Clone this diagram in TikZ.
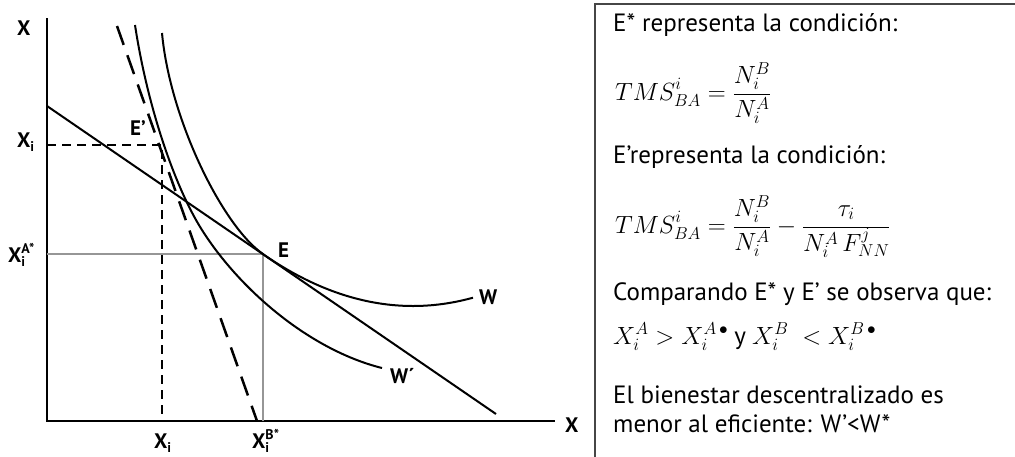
\documentclass[tikz,border=0pt]{standalone}
\usepackage{fontspec}
\setmainfont{PT Sans}
\definecolor{graycol}{RGB}{150,150,150}
\definecolor{boxcol}{RGB}{70,70,70}
\newcommand\lblsub[1]{\raisebox{-4pt}{\fontsize{14}{14}\selectfont #1}}
\newcommand\lblsubsup[2]{\rlap{\raisebox{-4pt}{\fontsize{14}{14}\selectfont #1}}\raisebox{9pt}{\fontsize{14}{14}\selectfont #2}}
\begin{document}
\begin{tikzpicture}[x=1pt,y=-1pt,
  axis/.style={line width=2.4pt},
  curve/.style={line width=2pt},
  longdash/.style={line width=2.5pt, dash pattern=on 20pt off 11pt},
  shortdash/.style={line width=2.2pt, dash pattern=on 9pt off 6pt},
  guide/.style={line width=2pt, draw=graycol},
  lbl/.style={font=\fontsize{21}{24}\selectfont\bfseries, inner sep=0pt, anchor=base west},
  txt/.style={font=\fontsize{25}{28}\selectfont, inner sep=0pt, anchor=base west},
  frm/.style={font=\fontsize{23}{26}\selectfont, inner sep=0pt, anchor=base west}]
\useasboundingbox (0,0) rectangle (1015,456);
% axes
\coordinate (O) at (47,421);
\coordinate (Ytop) at (47,18);
\coordinate (Xend) at (555,421);
\draw[axis] (Ytop) -- (O) -- (Xend);
% key points
\coordinate (Ep) at (162,145);
\coordinate (E) at (263,254);
\coordinate (EpY) at (47,145);
\coordinate (EpX) at (162,421);
\coordinate (EY) at (47,254);
\coordinate (EX) at (263,421);
% guides
\draw[guide] (EY) -- (E) -- (EX);
\draw[shortdash] (EpY) -- (Ep) -- (EpX);
% budget line
\coordinate (B1) at (47,106);
\coordinate (B2) at (496,414);
\draw[curve] (B1) -- (B2);
% steep dashed line
\coordinate (S1) at (117,26);
\coordinate (S2) at (257,421);
\draw[longdash] (S1) -- (S2);
% curve W'
\coordinate (Wp1) at (135,25);
\coordinate (Wp2) at (202,230);
\coordinate (Wp3) at (382,368);
\draw[curve] (Wp1) .. controls (148,110) and (176,189) .. (Wp2)
  .. controls (240,290) and (310,350) .. (Wp3);
% curve W
\coordinate (W1) at (162,33);
\draw[curve, line join=round] (W1) .. controls (170,120) and (223,226.5) .. (E)
  -- plot[domain=263:473, samples=50] (\x, {306-0.00231*(\x-413)*(\x-413)});
% labels
\node[lbl] (lX) at (17,35) {X};
\node[lbl] (lXi) at (17,147) {X\lblsub{i}};
\node[lbl] (lXA) at (8,262) {X\lblsubsup{i}{A*}};
\node[lbl] (lXib) at (154,448) {X\lblsub{i}};
\node[lbl] (lXB) at (252,448) {X\lblsubsup{i}{B*}};
\node[lbl] (lXr) at (565,432) {X};
\node[lbl] (lEp) at (130,135) {E’};
\node[lbl] (lE) at (278,257) {E};
\node[lbl] (lW) at (479,304) {W};
\node[lbl] (lWp) at (390,383) {W´};
% box
\draw[line width=1.8pt, draw=boxcol] (595,4) rectangle (1020,462);
\node[txt] (t1) at (613,31) {E* representa la condición:};
\node[frm] (f1) at (615,100) {$\displaystyle TMS^{i}_{BA}=\frac{N_i^B}{N_i^A}$};
\node[txt] (t2) at (613,163) {E’representa la condición:};
\node[frm] (f2) at (615,233) {$\displaystyle TMS^{i}_{BA}=\frac{N_i^B}{N_i^A}-\frac{\tau_i}{N_i^A\, F^{j}_{NN}}$};
\node[txt] (t3) at (613,300) {Comparando E* y E’ se observa que:};
\node[frm] (f3) at (613,344) {$X_i^A > X_i^{A\,\bullet}$ {\fontsize{25}{28}\selectfont y} $X_i^B\; < X_i^{B\,\bullet}$};
\node[txt] (t4) at (613,403) {El bienestar descentralizado es};
\node[txt] (t5) at (613,432) {menor al eficiente: W’<W*};
\end{tikzpicture}
\end{document}
